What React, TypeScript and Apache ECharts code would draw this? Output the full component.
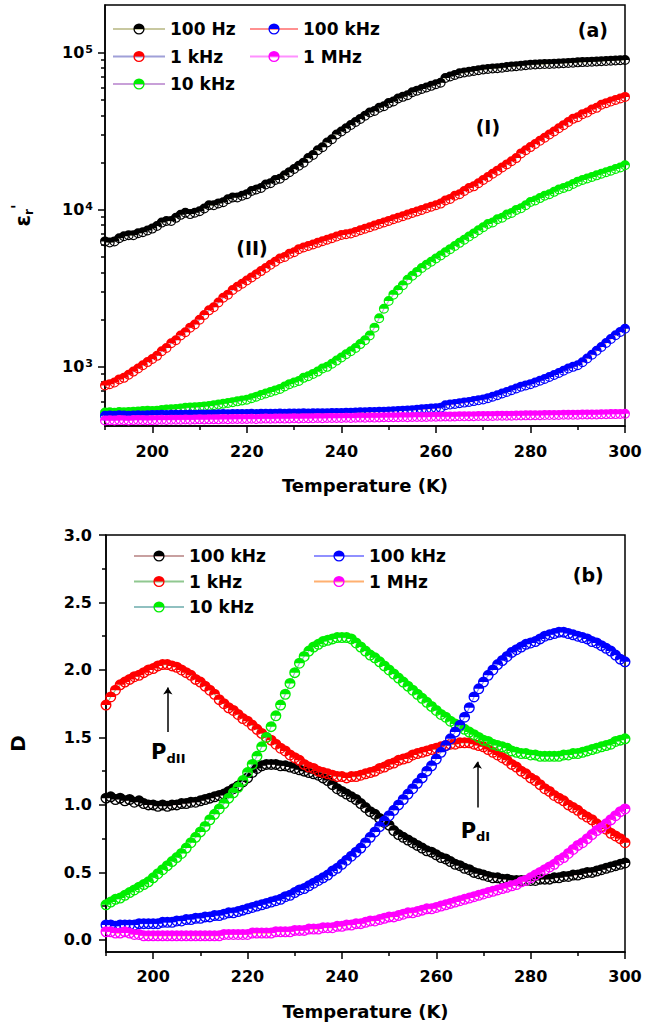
import React, { useEffect, useRef } from 'react';
import * as echarts from 'echarts';

// Temperature (K)
const TEMPS = [
  190, 191, 192, 193, 194, 195, 196, 197, 198, 199,
  200, 201, 202, 203, 204, 205, 206, 207, 208, 209,
  210, 211, 212, 213, 214, 215, 216, 217, 218, 219,
  220, 221, 222, 223, 224, 225, 226, 227, 228, 229,
  230, 231, 232, 233, 234, 235, 236, 237, 238, 239,
  240, 241, 242, 243, 244, 245, 246, 247, 248, 249,
  250, 251, 252, 253, 254, 255, 256, 257, 258, 259,
  260, 261, 262, 263, 264, 265, 266, 267, 268, 269,
  270, 271, 272, 273, 274, 275, 276, 277, 278, 279,
  280, 281, 282, 283, 284, 285, 286, 287, 288, 289,
  290, 291, 292, 293, 294, 295, 296, 297, 298, 299,
  300,
];

// Panel (a): dielectric constant
const EPS_100HZ = [
  6300, 6200, 6300, 6600, 6800, 6900, 6900, 7100, 7200, 7400,
  7600, 7900, 8300, 8500, 8500, 8900, 9300, 9600, 9400, 9600,
  9800, 10200, 10700, 10700, 11000, 11200, 11700, 12000, 12000, 12300,
  12600, 13200, 13500, 13800, 14500, 14800, 15500, 15800, 16600, 17400,
  18200, 19100, 20000, 21400, 22400, 24000, 25100, 26900, 28200, 30200,
  31600, 33100, 34700, 36300, 38000, 39800, 41700, 42700, 44700, 45700,
  47900, 49000, 51300, 52500, 53700, 56200, 57500, 58900, 60300, 61700,
  63100, 64600, 69200, 70800, 72400, 74100, 75000, 75900, 76700, 77600,
  78500, 79000, 79500, 80000, 80500, 81300, 81800, 82400, 83000, 83600,
  84100, 84300, 84600, 84900, 85100, 85400, 85700, 86000, 86300, 86700,
  87100, 87400, 87700, 88000, 88300, 88600, 88900, 89200, 89500, 89800,
  90200,
];
const EPS_1KHZ = [
  760, 776, 794, 832, 851, 891, 933, 977, 1023, 1072,
  1122, 1175, 1259, 1318, 1413, 1479, 1585, 1660, 1778, 1862,
  1995, 2138, 2291, 2399, 2570, 2754, 2884, 3090, 3236, 3388,
  3548, 3715, 3890, 4074, 4266, 4467, 4677, 4898, 5012, 5248,
  5370, 5623, 5754, 5888, 6026, 6166, 6310, 6457, 6607, 6761,
  6918, 6998, 7079, 7244, 7413, 7586, 7762, 7943, 8128, 8318,
  8511, 8710, 8913, 9120, 9333, 9550, 9772, 10000, 10233, 10471,
  10715, 10965, 11482, 11749, 12303, 12589, 13183, 13804, 14125, 14791,
  15488, 16218, 16982, 17783, 18621, 19498, 20417, 21380, 22909, 23988,
  25119, 26303, 27542, 28840, 30200, 31623, 33113, 34674, 36308, 38019,
  38905, 40738, 41687, 43652, 44668, 46774, 47863, 48978, 50119, 51286,
  52481,
];
const EPS_10KHZ = [
  512, 514, 511, 515, 513, 516, 518, 520, 523, 525,
  524, 526, 531, 535, 537, 538, 543, 548, 550, 552,
  556, 560, 563, 569, 575, 582, 589, 596, 603, 610,
  617, 631, 646, 661, 676, 692, 708, 724, 750, 776,
  794, 813, 851, 871, 902, 933, 977, 1000, 1047, 1096,
  1148, 1202, 1259, 1318, 1396, 1479, 1585, 1778, 2042, 2344,
  2630, 2884, 3090, 3311, 3589, 3802, 4027, 4266, 4467, 4677,
  4898, 5129, 5370, 5623, 5888, 6166, 6457, 6761, 7079, 7413,
  7762, 8128, 8318, 8710, 8913, 9333, 9550, 10000, 10233, 10715,
  11220, 11482, 11885, 12303, 12589, 13032, 13490, 13804, 14125, 14622,
  15136, 15488, 15849, 16218, 16596, 16982, 17378, 17783, 18197, 18621,
  19275,
];
const EPS_100KHZ = [
  488, 490, 489, 491, 490, 489, 490, 491, 490, 492,
  493, 494, 495, 494, 495, 496, 495, 496, 497, 496,
  497, 498, 497, 498, 499, 500, 499, 500, 501, 500,
  501, 502, 501, 502, 503, 502, 503, 504, 503, 504,
  504, 505, 506, 505, 506, 507, 506, 507, 508, 508,
  509, 510, 511, 512, 513, 514, 515, 516, 517, 518,
  520, 522, 524, 526, 528, 530, 533, 536, 539, 542,
  545, 548, 570, 575, 580, 586, 592, 598, 605, 612,
  620, 632, 645, 660, 676, 692, 710, 728, 748, 762,
  776, 795, 815, 838, 862, 888, 915, 945, 975, 1000,
  1023, 1070, 1130, 1195, 1265, 1340, 1420, 1505, 1590, 1670,
  1750,
];
const EPS_1MHZ = [
  455, 457, 456, 458, 457, 456, 458, 459, 458, 457,
  458, 459, 460, 459, 461, 460, 461, 462, 461, 462,
  463, 462, 463, 464, 463, 465, 464, 465, 466, 465,
  466, 467, 466, 467, 468, 467, 468, 469, 468, 469,
  470, 469, 470, 471, 470, 472, 471, 472, 473, 472,
  473, 474, 473, 474, 475, 474, 476, 475, 476, 477,
  477, 478, 477, 479, 478, 479, 480, 479, 480, 481,
  481, 482, 483, 482, 483, 484, 484, 485, 485, 486,
  486, 487, 487, 488, 488, 489, 489, 490, 490, 491,
  491, 492, 492, 493, 493, 494, 494, 495, 495, 496,
  496, 497, 497, 498, 498, 499, 499, 500, 500, 501,
  502,
];

// Panel (b): loss tangent D
const D_100HZ = [
  1.05, 1.06, 1.04, 1.05, 1.03, 1.04, 1.02, 1.03, 1.01, 1.00,
  1.00, 0.99, 1.00, 0.99, 1.00, 1.00, 1.01, 1.01, 1.02, 1.02,
  1.03, 1.04, 1.05, 1.06, 1.07, 1.08, 1.10, 1.12, 1.14, 1.17,
  1.20, 1.24, 1.27, 1.29, 1.30, 1.30, 1.30, 1.29, 1.29, 1.28,
  1.27, 1.26, 1.25, 1.24, 1.23, 1.22, 1.20, 1.18, 1.15, 1.12,
  1.10, 1.08, 1.06, 1.04, 1.01, 0.98, 0.95, 0.93, 0.90, 0.87,
  0.85, 0.81, 0.78, 0.76, 0.74, 0.72, 0.70, 0.68, 0.66, 0.65,
  0.63, 0.61, 0.60, 0.58, 0.56, 0.55, 0.53, 0.52, 0.50, 0.49,
  0.48, 0.47, 0.46, 0.46, 0.45, 0.45, 0.44, 0.44, 0.44, 0.44,
  0.44, 0.44, 0.45, 0.45, 0.45, 0.46, 0.46, 0.47, 0.47, 0.48,
  0.48, 0.49, 0.50, 0.50, 0.51, 0.52, 0.53, 0.54, 0.55, 0.56,
  0.57,
];
const D_1KHZ = [
  1.74, 1.80, 1.85, 1.89, 1.91, 1.93, 1.95, 1.96, 1.98, 2.00,
  2.01, 2.03, 2.04, 2.04, 2.03, 2.02, 2.00, 1.98, 1.96, 1.93,
  1.91, 1.88, 1.85, 1.82, 1.78, 1.75, 1.72, 1.70, 1.67, 1.64,
  1.62, 1.59, 1.56, 1.53, 1.50, 1.48, 1.45, 1.42, 1.40, 1.37,
  1.35, 1.33, 1.30, 1.28, 1.27, 1.25, 1.24, 1.23, 1.22, 1.21,
  1.21, 1.20, 1.21, 1.21, 1.22, 1.23, 1.24, 1.25, 1.27, 1.28,
  1.30, 1.31, 1.33, 1.34, 1.35, 1.37, 1.38, 1.39, 1.40, 1.41,
  1.42, 1.43, 1.44, 1.45, 1.45, 1.46, 1.46, 1.46, 1.45, 1.44,
  1.43, 1.41, 1.39, 1.37, 1.35, 1.33, 1.30, 1.28, 1.25, 1.23,
  1.20, 1.18, 1.15, 1.12, 1.10, 1.07, 1.05, 1.03, 1.00, 0.98,
  0.96, 0.93, 0.91, 0.89, 0.86, 0.84, 0.82, 0.79, 0.77, 0.75,
  0.72,
];
const D_10KHZ = [
  0.26, 0.28, 0.30, 0.31, 0.33, 0.35, 0.37, 0.39, 0.41, 0.43,
  0.46, 0.49, 0.52, 0.55, 0.58, 0.61, 0.64, 0.68, 0.72, 0.76,
  0.80, 0.84, 0.89, 0.93, 0.97, 1.01, 1.05, 1.09, 1.13, 1.18,
  1.24, 1.30, 1.36, 1.43, 1.50, 1.58, 1.66, 1.74, 1.82, 1.90,
  1.98, 2.05, 2.10, 2.14, 2.17, 2.19, 2.21, 2.22, 2.23, 2.24,
  2.24, 2.24, 2.23, 2.20, 2.17, 2.14, 2.11, 2.09, 2.06, 2.03,
  2.00, 1.97, 1.94, 1.91, 1.88, 1.85, 1.82, 1.79, 1.76, 1.73,
  1.70, 1.67, 1.65, 1.62, 1.60, 1.58, 1.56, 1.54, 1.52, 1.50,
  1.48, 1.47, 1.45, 1.44, 1.43, 1.42, 1.40, 1.39, 1.38, 1.38,
  1.37, 1.37, 1.36, 1.36, 1.36, 1.36, 1.36, 1.37, 1.37, 1.38,
  1.38, 1.39, 1.40, 1.41, 1.42, 1.43, 1.44, 1.45, 1.47, 1.48,
  1.49,
];
const D_100KHZ = [
  0.11, 0.11, 0.10, 0.11, 0.11, 0.11, 0.11, 0.12, 0.12, 0.12,
  0.12, 0.12, 0.13, 0.13, 0.13, 0.14, 0.14, 0.15, 0.15, 0.16,
  0.16, 0.17, 0.17, 0.18, 0.18, 0.19, 0.20, 0.20, 0.21, 0.22,
  0.23, 0.24, 0.25, 0.26, 0.27, 0.28, 0.29, 0.30, 0.32, 0.33,
  0.35, 0.37, 0.38, 0.40, 0.42, 0.44, 0.46, 0.48, 0.51, 0.53,
  0.56, 0.59, 0.62, 0.65, 0.68, 0.72, 0.76, 0.80, 0.84, 0.88,
  0.92, 0.96, 1.00, 1.04, 1.08, 1.12, 1.16, 1.20, 1.25, 1.29,
  1.34, 1.39, 1.44, 1.49, 1.54, 1.59, 1.65, 1.72, 1.80, 1.86,
  1.91, 1.96, 2.00, 2.04, 2.07, 2.10, 2.13, 2.15, 2.17, 2.19,
  2.20, 2.21, 2.23, 2.25, 2.26, 2.27, 2.28, 2.28, 2.27, 2.26,
  2.25, 2.24, 2.23, 2.21, 2.20, 2.18, 2.16, 2.14, 2.11, 2.08,
  2.06,
];
const D_1MHZ = [
  0.06, 0.06, 0.05, 0.05, 0.06, 0.05, 0.04, 0.04, 0.03, 0.03,
  0.03, 0.03, 0.03, 0.03, 0.03, 0.03, 0.03, 0.03, 0.03, 0.03,
  0.03, 0.03, 0.03, 0.03, 0.03, 0.04, 0.04, 0.04, 0.04, 0.04,
  0.04, 0.05, 0.05, 0.05, 0.05, 0.05, 0.06, 0.06, 0.06, 0.06,
  0.07, 0.07, 0.07, 0.08, 0.08, 0.08, 0.09, 0.09, 0.09, 0.10,
  0.10, 0.11, 0.11, 0.12, 0.12, 0.13, 0.14, 0.14, 0.15, 0.16,
  0.17, 0.17, 0.18, 0.19, 0.20, 0.20, 0.21, 0.22, 0.23, 0.23,
  0.24, 0.25, 0.26, 0.27, 0.28, 0.29, 0.30, 0.31, 0.32, 0.33,
  0.34, 0.35, 0.36, 0.37, 0.38, 0.39, 0.40, 0.41, 0.43, 0.44,
  0.46, 0.48, 0.50, 0.52, 0.54, 0.56, 0.59, 0.61, 0.64, 0.67,
  0.70, 0.72, 0.75, 0.78, 0.81, 0.83, 0.86, 0.89, 0.92, 0.95,
  0.97,
];

// Ticks
const T_MAJOR = [200, 220, 240, 260, 280, 300];
const T_MINOR = [190, 210, 230, 250, 270, 290];
const EPS_MAJOR = [1000, 10000, 100000];
const EPS_MINOR = [
  500, 600, 700, 800, 900,
  2000, 3000, 4000, 5000, 6000, 7000, 8000, 9000,
  20000, 30000, 40000, 50000, 60000, 70000, 80000, 90000,
];
const D_MAJOR = [0, 0.5, 1.0, 1.5, 2.0, 2.5, 3.0];
const D_MINOR = [0.25, 0.75, 1.25, 1.75, 2.25, 2.75];

// Legend labels
const TOP_LABELS = ['100 Hz', '1 kHz', '10 kHz', '100 kHz', '1 MHz'];
const BOTTOM_LABELS = ['100 kHz', '1 kHz', '10 kHz', '100 kHz', '1 MHz'];

// Annotations (data coordinates)
const TOP_NOTES = [
  { text: '(a)', T: 293.2, v: 140000 },
  { text: '(I)', T: 271, v: 33800 },
  { text: '(II)', T: 221.1, v: 5730 },
];
const BOTTOM_NOTES = [
  { text: '(b)', T: 292.2, v: 2.7 },
];
const PEAK_NOTES = [
  { text: 'P{sub|dII}', T: 203.2, v: 1.39 },
  { text: 'P{sub|dI}', T: 268.3, v: 0.81 },
];
const ARROWS = [
  { T: 203.1, from: 1.54, to: 1.87 },
  { T: 268.7, from: 0.98, to: 1.32 },
];

const FONT = 'DejaVu Sans';
const MARKER =
  'path://M0,10A10,10 0 0 1 20,10Z M0,10A10,10 0 0 0 20,10L17.6,10A7.6,7.6 0 0 1 2.4,10Z';

const COLORS = ['#000000', '#ff0000', '#00ee00', '#0000ff', '#ff00ff'];
const TOP_LINES = ['#c8c8a0', '#a0a0d8', '#c8a0d8', '#ff9090', '#ff90ff'];
const BOTTOM_LINES = ['#c8a0a0', '#90c890', '#90c0c0', '#9090ff', '#ffb070'];

const TOP_DATA = [EPS_100HZ, EPS_1KHZ, EPS_10KHZ, EPS_100KHZ, EPS_1MHZ];
const BOTTOM_DATA = [D_100HZ, D_1KHZ, D_10KHZ, D_100KHZ, D_1MHZ];

function pairs(vals: number[]) {
  return TEMPS.map((t, i) => [t, vals[i]]);
}

const axisLineStyle = { show: true, onZero: false, lineStyle: { color: '#000', width: 1.5 } };
const hiddenLine = { show: false, onZero: false };
const labelText = { color: '#000', fontFamily: FONT, fontWeight: 'bold' as const };

function xAxes(grid: number, margin: number) {
  return [
    {
      type: 'value',
      gridIndex: grid,
      position: 'bottom',
      min: 190,
      max: 300,
      axisLine: axisLineStyle,
      splitLine: { show: false },
      axisTick: { customValues: T_MAJOR, length: 7, lineStyle: { color: '#000', width: 1.5 } },
      axisLabel: { customValues: T_MAJOR, margin, fontSize: 16, ...labelText },
      name: 'Temperature (K)',
      nameLocation: 'middle',
      nameGap: 50,
      nameTextStyle: { fontSize: 18, ...labelText },
    },
    {
      type: 'value',
      gridIndex: grid,
      position: 'bottom',
      min: 190,
      max: 300,
      axisLine: hiddenLine,
      splitLine: { show: false },
      axisTick: { customValues: T_MINOR, length: 4, lineStyle: { color: '#000', width: 1.5 } },
      axisLabel: { show: false },
    },
  ];
}

export default function App() {
  const ref = useRef<HTMLDivElement>(null);

  useEffect(() => {
    const chart = echarts.init(ref.current!, null, { renderer: 'svg' });

    const nameMap: Record<string, string> = {};
    const series: any[] = [];

    TOP_DATA.forEach((vals, i) => {
      const key = 'top' + i;
      nameMap[key] = TOP_LABELS[i];
      series.push({
        type: 'line',
        name: key,
        xAxisIndex: 0,
        yAxisIndex: 0,
        data: pairs(vals),
        symbol: MARKER,
        symbolSize: 10,
        showAllSymbol: true,
        lineStyle: { color: TOP_LINES[i], width: 1.2 },
        itemStyle: { color: COLORS[i] },
        emphasis: { disabled: true },
        silent: true,
        z: 2 + i,
      });
    });

    BOTTOM_DATA.forEach((vals, i) => {
      const key = 'bot' + i;
      nameMap[key] = BOTTOM_LABELS[i];
      series.push({
        type: 'line',
        name: key,
        xAxisIndex: 2,
        yAxisIndex: 2,
        data: pairs(vals),
        symbol: MARKER,
        symbolSize: 11,
        showAllSymbol: true,
        lineStyle: { color: BOTTOM_LINES[i], width: 1.2 },
        itemStyle: { color: COLORS[i] },
        emphasis: { disabled: true },
        silent: true,
        z: 2 + i,
      });
    });

    const noteLabel = (size: number) => ({
      show: true,
      position: 'inside',
      fontSize: size,
      ...labelText,
      formatter: (p: any) => p.name,
      rich: {
        sub: { fontSize: 13, fontFamily: FONT, fontWeight: 'bold', color: '#000', verticalAlign: 'bottom', padding: [12, 0, 0, 0] },
      },
    });

    // annotation carrier series (no own marks)
    series.push({
      type: 'line',
      name: 'notesTop',
      xAxisIndex: 0,
      yAxisIndex: 0,
      data: [],
      silent: true,
      z: 20,
      markPoint: {
        symbol: 'circle',
        symbolSize: 0,
        silent: true,
        label: noteLabel(19),
        data: TOP_NOTES.map((n) => ({ name: n.text, coord: [n.T, n.v] })),
      },
    });
    series.push({
      type: 'line',
      name: 'notesBottom',
      xAxisIndex: 2,
      yAxisIndex: 2,
      data: [],
      silent: true,
      z: 20,
      markPoint: {
        symbol: 'circle',
        symbolSize: 0,
        silent: true,
        label: noteLabel(19),
        data: [
          ...BOTTOM_NOTES.map((n) => ({ name: n.text, coord: [n.T, n.v] })),
          ...PEAK_NOTES.map((n) => ({ name: n.text, coord: [n.T, n.v], label: { fontSize: 21 } })),
        ],
      },
      markLine: {
        silent: true,
        symbol: ['none', 'arrow'],
        symbolSize: 7,
        label: { show: false },
        lineStyle: { color: '#000', width: 1.5, type: 'solid' },
        emphasis: { disabled: true },
        data: ARROWS.map((a) => [{ coord: [a.T, a.from] }, { coord: [a.T, a.to] }]),
      },
    });

    const legendBase = {
      orient: 'vertical',
      selectedMode: false,
      itemHeight: 14,
      formatter: (n: string) => nameMap[n],
      textStyle: { fontSize: 17, lineHeight: 18, ...labelText },
    };

    const option: any = {
      animation: false,
      backgroundColor: '#fff',
      grid: [
        { left: 105, top: 5, width: 520, height: 421, show: true, borderColor: '#000', borderWidth: 1.5, backgroundColor: 'transparent' },
        { left: 105, top: 535, width: 520, height: 417, show: true, borderColor: '#000', borderWidth: 1.5, backgroundColor: 'transparent' },
      ],
      legend: [
        { ...legendBase, left: 107, top: 15, itemWidth: 52, itemGap: 9.5, data: ['top0', 'top1', 'top2'] },
        { ...legendBase, left: 244, top: 15, itemWidth: 48, itemGap: 9.5, data: ['top3', 'top4'] },
        { ...legendBase, left: 128, top: 542, itemWidth: 50, itemGap: 7.5, data: ['bot0', 'bot1', 'bot2'] },
        { ...legendBase, left: 308, top: 542, itemWidth: 50, itemGap: 7.5, data: ['bot3', 'bot4'] },
      ],
      xAxis: [...xAxes(0, 17), ...xAxes(1, 16)],
      yAxis: [
        {
          type: 'log',
          gridIndex: 0,
          position: 'left',
          min: 420,
          max: 202000,
          axisLine: axisLineStyle,
          splitLine: { show: false },
          axisTick: { customValues: EPS_MAJOR, length: 7, lineStyle: { color: '#000', width: 1.5 } },
          axisLabel: {
            customValues: EPS_MAJOR,
            margin: 12,
            fontSize: 16,
            ...labelText,
            formatter: (v: number) => '10{sup|' + Math.round(Math.log10(v)) + '}',
            rich: { sup: { fontSize: 11, fontFamily: FONT, fontWeight: 'bold', color: '#000', verticalAlign: 'top', padding: [0, 0, 6, 1] } },
          },
          name: "ε{sub|r}{sup|'}",
          nameLocation: 'middle',
          nameRotate: 90,
          nameGap: 70,
          nameTextStyle: {
            fontSize: 21,
            ...labelText,
            rich: {
              sub: { fontSize: 12, fontFamily: FONT, fontWeight: 'bold', color: '#000', verticalAlign: 'bottom', padding: [10, 0, 0, 0] },
              sup: { fontSize: 15, fontFamily: FONT, fontWeight: 'bold', color: '#000', verticalAlign: 'top', padding: [0, 0, 10, 0] },
            },
          },
        },
        {
          type: 'log',
          gridIndex: 0,
          position: 'left',
          min: 420,
          max: 202000,
          axisLine: hiddenLine,
          splitLine: { show: false },
          axisTick: { customValues: EPS_MINOR, length: 4, lineStyle: { color: '#000', width: 1.5 } },
          axisLabel: { show: false },
        },
        {
          type: 'value',
          gridIndex: 1,
          position: 'left',
          min: -0.09,
          max: 3.0,
          axisLine: axisLineStyle,
          splitLine: { show: false },
          axisTick: { customValues: D_MAJOR, length: 7, lineStyle: { color: '#000', width: 1.5 } },
          axisLabel: {
            customValues: D_MAJOR,
            margin: 14,
            fontSize: 16,
            ...labelText,
            formatter: (v: number) => v.toFixed(1),
          },
          name: 'D',
          nameLocation: 'middle',
          nameRotate: 90,
          nameGap: 78,
          nameTextStyle: { fontSize: 20, ...labelText },
        },
        {
          type: 'value',
          gridIndex: 1,
          position: 'left',
          min: -0.09,
          max: 3.0,
          axisLine: hiddenLine,
          splitLine: { show: false },
          axisTick: { customValues: D_MINOR, length: 4, lineStyle: { color: '#000', width: 1.5 } },
          axisLabel: { show: false },
        },
      ],
      series,
    };

    chart.setOption(option);
    return () => chart.dispose();
  }, []);

  return (
    <div
      ref={ref}
      style={{ position: 'absolute', left: 0, top: 0, width: 646, height: 1029, background: '#fff' }}
    />
  );
}
